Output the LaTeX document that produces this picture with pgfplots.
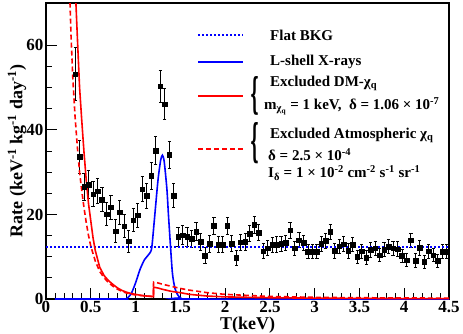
\documentclass[border=0pt]{standalone}
\usepackage{fontspec}
\setmainfont{Liberation Serif}
\newfontfamily\bracefont{DejaVu Serif}
\usepackage{graphicx}
\usepackage{pgfplots}
\pgfplotsset{compat=1.18}
\usepackage{pgfplotstable}

\pgfplotstableread{
x y e
0.325 53.2 6.2
0.375 33.6 4.0
0.425 26.5 3.3
0.475 27.0 3.3
0.525 24.8 3.0
0.575 25.5 3.0
0.625 23.5 2.9
0.675 20.1 2.8
0.725 21.7 2.8
0.775 16.0 2.7
0.825 20.5 2.8
0.875 17.2 2.7
0.925 13.7 2.6
0.975 18.6 2.7
1.025 19.8 2.8
1.075 26.0 3.0
1.125 24.4 2.9
1.175 29.1 3.1
1.225 35.1 3.3
1.275 50.3 3.7
1.325 46.1 3.6
1.375 34.1 3.2
1.425 24.5 2.8
1.475 14.7 2.3
1.525 15.1 2.2
1.575 14.7 2.2
1.625 14.2 2.1
1.675 15.9 2.1
1.725 13.5 2.0
1.775 10.2 1.9
1.825 13.1 2.0
1.875 17.3 2.1
1.925 12.8 1.9
1.975 12.9 1.9
2.025 17.3 2.0
2.075 13.1 1.9
2.125 9.8 1.8
2.175 13.4 1.9
2.225 13.5 1.9
2.275 15.5 1.9
2.325 17.6 2.0
2.375 15.7 1.9
2.425 11.3 1.8
2.475 12.0 1.8
2.525 12.8 1.8
2.575 12.9 1.8
2.625 13.1 1.8
2.675 13.3 1.8
2.725 16.3 1.9
2.775 12.0 1.7
2.825 13.9 1.8
2.875 13.3 1.8
2.925 11.2 1.7
2.975 11.2 1.7
3.025 11.2 1.7
3.075 13.1 1.8
3.125 13.8 1.8
3.175 15.9 1.8
3.225 11.4 1.7
3.275 12.5 1.7
3.325 13.0 1.7
3.375 11.4 1.7
3.425 12.9 1.7
3.475 10.0 1.6
3.525 11.3 1.7
3.575 9.8 1.6
3.625 11.6 1.7
3.675 12.0 1.7
3.725 10.4 1.6
3.775 11.7 1.7
3.825 12.4 1.7
3.875 12.0 1.7
3.925 11.8 1.7
3.975 10.2 1.6
4.025 9.2 1.6
4.075 13.9 1.7
4.125 9.1 1.6
4.175 12.1 1.7
4.225 8.8 1.6
4.275 11.3 1.7
4.325 10.4 1.6
4.375 9.0 1.6
4.425 11.2 1.7
4.475 11.2 1.7
}\data

\pgfplotstableread{
x y
0.1 0
0.85 0
0.9 0.1
0.95 1.2
1.0 3.8
1.05 7.0
1.1 9.3
1.15 10.6
1.18 12.0
1.21 18.7
1.25 28.0
1.28 32.8
1.30 34.0
1.32 32.5
1.35 26.0
1.37 19.0
1.41 6.5
1.44 2.5
1.47 1.0
1.5 0.3
1.55 0
4.5 0
}\lshell

\pgfplotstableread{
x y
0.0 12.3
4.5 12.3
}\flat

\pgfplotstableread{
x y
0.33 72
0.35 62
0.375 50
0.4 42
0.425 34.5
0.45 28
0.475 22.5
0.5 18.5
0.525 14.5
0.55 11.5
0.6 7.5
0.65 5.5
0.7 4.3
0.75 3.4
0.8 2.6
0.85 2.0
0.9 1.6
0.95 1.3
1.0 1.1
1.05 0.9
1.1 0.75
1.15 0.65
1.2 0.55
1.201 2.8
1.25 2.6
1.3 2.3
1.4 1.8
1.5 1.5
1.6 1.1
1.7 0.9
1.8 0.7
2.0 0.5
2.5 0.3
3.0 0.2
3.5 0.15
4.0 0.1
4.5 0.08
}\dmchi

\pgfplotstableread{
x y
0.265 72
0.28 62
0.3 52
0.325 43
0.35 36
0.375 30
0.4 25.5
0.425 21.5
0.45 18
0.475 15
0.5 12.5
0.55 9
0.6 6.5
0.65 5
0.7 3.8
0.75 3
0.8 2.3
0.85 1.8
0.9 1.4
0.95 1.15
1.0 0.95
1.1 0.75
1.2 0.6
1.201 4.0
1.25 3.8
1.3 3.5
1.4 3.0
1.5 2.5
1.6 2.1
1.8 1.5
2.0 1.1
2.5 0.6
3.0 0.4
3.5 0.3
4.0 0.25
4.5 0.2
}\atmchi

\begin{document}
\begin{tikzpicture}[x=1pt,y=1pt]
\begin{axis}[
  at={(0,0)}, anchor=south west,
  width=403pt, height=296pt, scale only axis,
  xmin=0, xmax=4.5, ymin=0, ymax=70,
  xtick={0,0.5,1,1.5,2,2.5,3,3.5,4,4.5},
  ytick={0,20,40,60},
  minor x tick num=4, minor y tick num=3,
  tick align=inside, tick pos=left,
  major tick length=11pt, minor tick length=6pt,
  axis line style={line width=1.1pt},
  every tick/.style={black, line width=0.8pt},
  /pgf/number format/assume math mode=true,
  tick label style={font=\fontsize{17}{17}\selectfont\bfseries},
  xticklabel style={yshift=1.5pt},
  yticklabel style={xshift=1pt},
  xlabel={T(keV)},
  ylabel={Rate (keV\textsuperscript{-1} kg\textsuperscript{-1} day\textsuperscript{-1})},
  xlabel style={font=\fontsize{18}{18}\selectfont\bfseries, at={(axis description cs:0.5,-0.089)}, anchor=center},
  ylabel style={font=\fontsize{18}{18}\selectfont\bfseries, at={(axis description cs:-0.072,0.5)}, anchor=center},
]
\addplot[only marks, mark=square*, mark size=2.3pt, black,
  error bars/.cd, y dir=both, y explicit,
  error bar style={line width=0.9pt},
  error mark options={rotate=90, mark size=1.6pt, line width=0.9pt}]
  table[x=x, y=y, y error=e]{\data};
\addplot[blue, line width=1.8pt, dash pattern=on 2pt off 2pt] table[x=x,y=y]{\flat};
\addplot[blue, line width=1.6pt, smooth, tension=0.4] table[x=x,y=y]{\lshell};
\addplot[red, line width=1.6pt] table[x=x,y=y]{\dmchi};
\addplot[red, line width=1.6pt, dash pattern=on 5pt off 3pt] table[x=x,y=y]{\atmchi};
\end{axis}
% legend
\draw[blue, line width=1.8pt, dash pattern=on 2pt off 2pt] (152,264) -- (197,264);
\draw[blue, line width=1.6pt] (152,237) -- (197,237);
\draw[red, line width=1.6pt] (152,203) -- (197,203);
\draw[red, line width=1.8pt, dash pattern=on 5pt off 3pt] (152,150) -- (197,150);
\begin{scope}[every node/.style={font=\fontsize{15}{15}\selectfont\bfseries, inner sep=0pt, anchor=west}]
\node at (224,264) {Flat BKG};
\node at (224,237) {L-shell X-rays};
\node at (224,216) {Excluded DM-χ\textsubscript{q}};
\node at (218,193) {m\textsubscript{χ\textsubscript{q}} = 1 keV,\ \ δ = 1.06 × 10\textsuperscript{-7}};
\node at (224,164) {Excluded Atmospheric χ\textsubscript{q}};
\node at (222,144) {δ = 2.5 × 10\textsuperscript{-4}};
\node at (222,126) {I\textsubscript{δ} = 1 × 10\textsuperscript{-2} cm\textsuperscript{-2} s\textsuperscript{-1} sr\textsuperscript{-1}};
\end{scope}
\node[inner sep=0pt] at (209,203) {\resizebox{9pt}{32pt}{\bracefont\bfseries\{}};
\node[inner sep=0pt] at (209,156) {\resizebox{9pt}{34pt}{\bracefont\bfseries\{}};
\pgfresetboundingbox
\path (-46,-34) rectangle (417,299);
\end{tikzpicture}
\end{document}
